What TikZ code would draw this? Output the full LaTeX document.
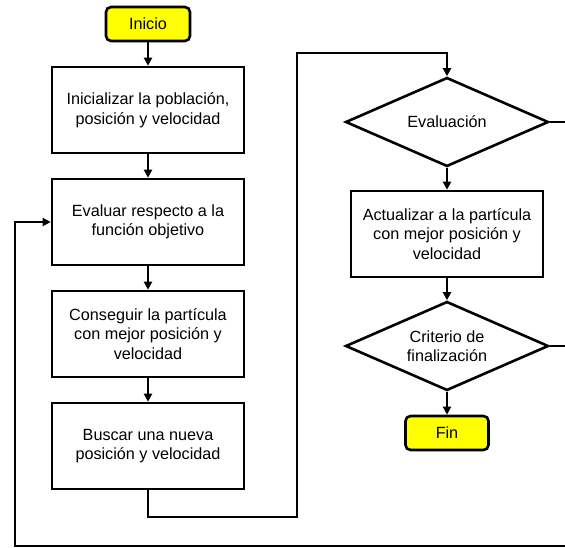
\documentclass[tikz,border=0pt]{standalone}
\usepackage{fontspec}
\setmainfont{Liberation Sans}
\usetikzlibrary{shapes.geometric,arrows.meta}
\definecolor{termyellow}{HTML}{FFFF00}
\begin{document}
\begin{tikzpicture}[x=1pt,y=-1pt,
  every node/.style={font=\fontsize{16.2}{19.5}\selectfont, align=center},
  procbox/.style={draw, line width=2.6pt, minimum width=192pt, minimum height=86pt, inner sep=2pt},
  termbox/.style={draw, line width=2.6pt, fill=termyellow, rounded corners=5pt, minimum height=34pt, inner sep=2pt},
  decbox/.style={draw, diamond, aspect=2.28, line width=2.6pt, minimum width=203pt, minimum height=89pt, inner sep=0pt},
  link/.style={line width=2.6pt, -{Triangle[width=8pt,length=8pt]}},
  plainlink/.style={line width=2.6pt}]
\useasboundingbox (0,0) rectangle (565,548);
\node[termbox, minimum width=84pt] (inicio) at (148,24) {Inicio};
\node[procbox] (b1) at (148,110) {Inicializar la población,\\posición y velocidad};
\node[procbox] (b2) at (148,222) {Evaluar respecto a la\\función objetivo};
\node[procbox] (b3) at (148,334) {Conseguir la partícula\\con mejor posición y\\velocidad};
\node[procbox] (b4) at (148,446) {Buscar una nueva\\posición y velocidad};
\node[decbox] (d1) at (447,122) {Evaluación};
\node[procbox] (b5) at (447,234) {Actualizar a la partícula\\con mejor posición y\\velocidad};
\node[decbox] (d2) at (447,346) {Criterio de\\finalización};
\node[termbox, minimum width=83pt] (fin) at (447,433) {Fin};
\coordinate (c1) at (148,517);
\coordinate (c3) at (297,53);
\coordinate (e1) at (566,122);
\coordinate (e2) at (566,346);
\coordinate (f1) at (15,546);
\coordinate (f2) at (566,546);
\draw[link] (inicio) -- (b1);
\draw[link] (b1) -- (b2);
\draw[link] (b2) -- (b3);
\draw[link] (b3) -- (b4);
\draw[link] (b4.south) -- (c1) -| (c3) -| (d1.north);
\draw[link] (d1) -- (b5);
\draw[link] (b5) -- (d2);
\draw[link] (d2) -- (fin);
\draw[plainlink] (d1.east) -- (e1);
\draw[plainlink] (d2.east) -- (e2);
\draw[link] (f2) -- (f1) |- (b2.west);
\end{tikzpicture}
\end{document}
